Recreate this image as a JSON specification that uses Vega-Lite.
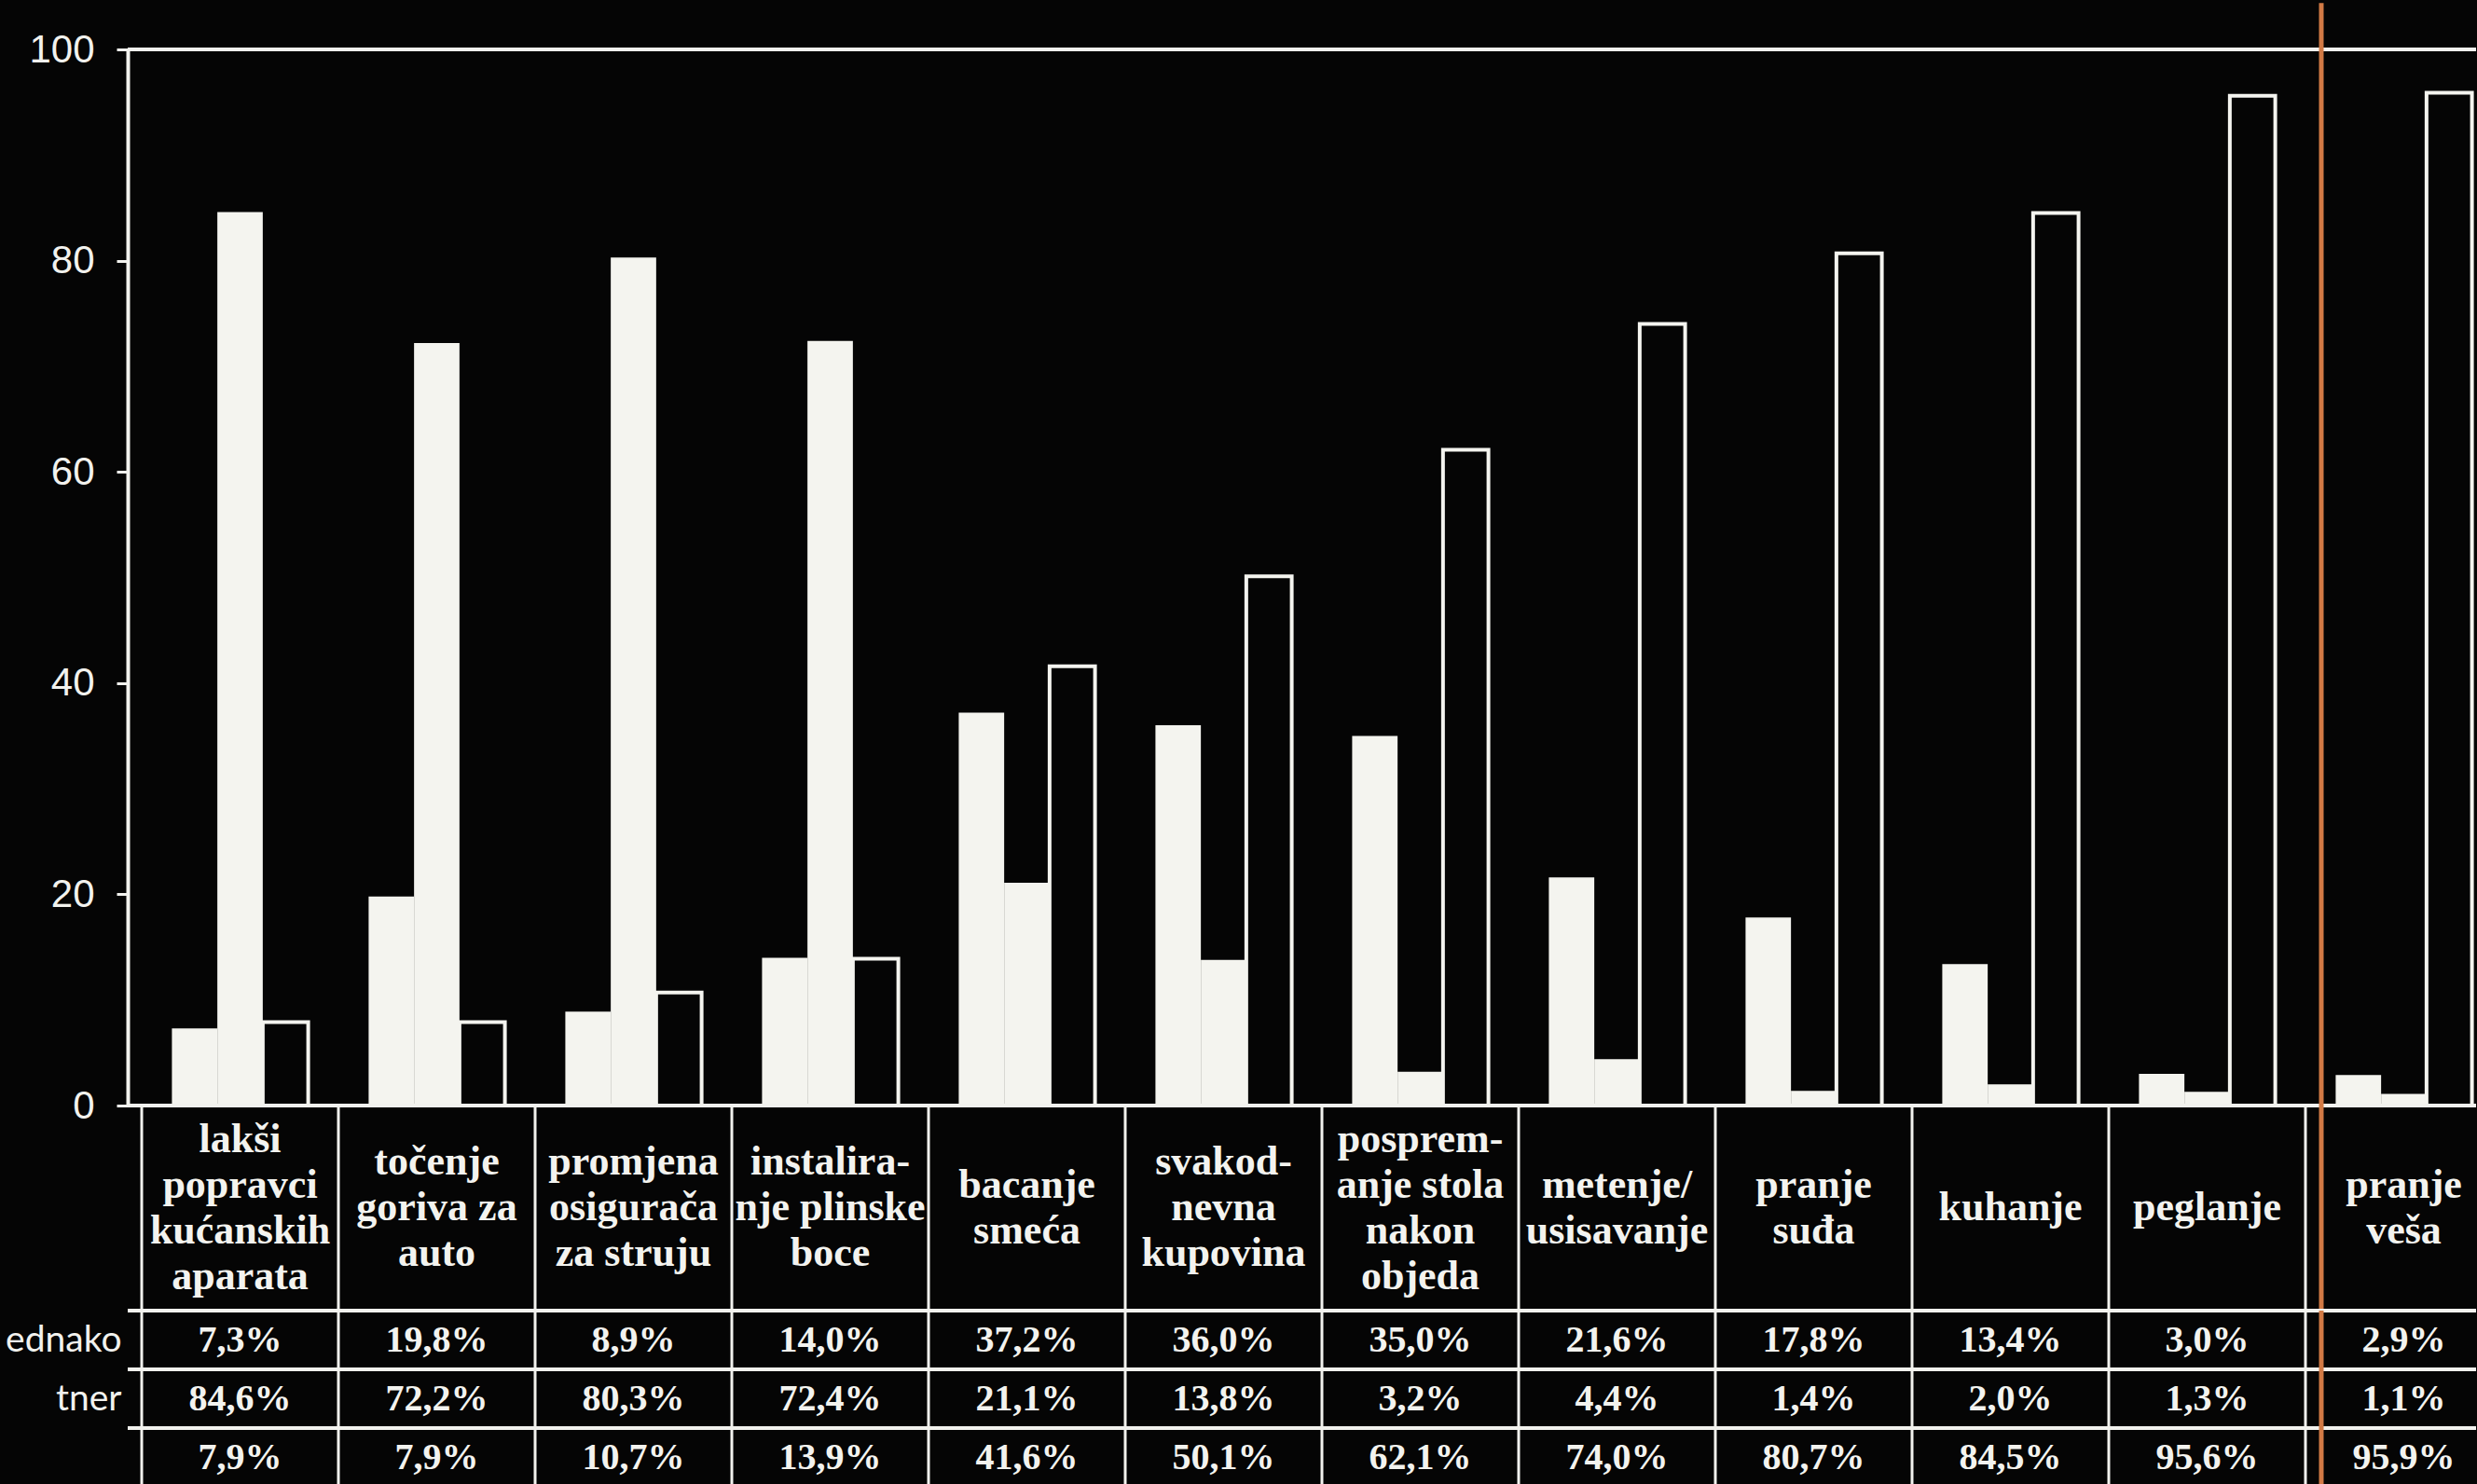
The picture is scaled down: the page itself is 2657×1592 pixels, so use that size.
{
  "$schema": "https://vega.github.io/schema/vega-lite/v6.json",
  "background": "#050505",
  "padding": {"left": 5, "top": 0, "right": 0, "bottom": 0},
  "autosize": {"type": "pad"},
  "bounds": "flush",
  "spacing": 0,
  "config": {"view": {"stroke": null}},
  "datasets": {
    "tasks": [
      {"task": "lakši\npopravci\nkućanskih\naparata"},
      {"task": "točenje\ngoriva za\nauto"},
      {"task": "promjena\nosigurača\nza struju"},
      {"task": "instalira-\nnje plinske\nboce"},
      {"task": "bacanje\nsmeća"},
      {"task": "svakod-\nnevna\nkupovina"},
      {"task": "posprem-\nanje stola\nnakon\nobjeda"},
      {"task": "metenje/\nusisavanje"},
      {"task": "pranje\nsuđa"},
      {"task": "kuhanje"},
      {"task": "peglanje"},
      {"task": "pranje\nveša"}
    ],
    "vals": [
      {"task": "lakši\npopravci\nkućanskih\naparata", "series": "jednako", "value": 7.3},
      {"task": "lakši\npopravci\nkućanskih\naparata", "series": "partner", "value": 84.6},
      {"task": "lakši\npopravci\nkućanskih\naparata", "series": "ja", "value": 7.9},
      {"task": "točenje\ngoriva za\nauto", "series": "jednako", "value": 19.8},
      {"task": "točenje\ngoriva za\nauto", "series": "partner", "value": 72.2},
      {"task": "točenje\ngoriva za\nauto", "series": "ja", "value": 7.9},
      {"task": "promjena\nosigurača\nza struju", "series": "jednako", "value": 8.9},
      {"task": "promjena\nosigurača\nza struju", "series": "partner", "value": 80.3},
      {"task": "promjena\nosigurača\nza struju", "series": "ja", "value": 10.7},
      {"task": "instalira-\nnje plinske\nboce", "series": "jednako", "value": 14.0},
      {"task": "instalira-\nnje plinske\nboce", "series": "partner", "value": 72.4},
      {"task": "instalira-\nnje plinske\nboce", "series": "ja", "value": 13.9},
      {"task": "bacanje\nsmeća", "series": "jednako", "value": 37.2},
      {"task": "bacanje\nsmeća", "series": "partner", "value": 21.1},
      {"task": "bacanje\nsmeća", "series": "ja", "value": 41.6},
      {"task": "svakod-\nnevna\nkupovina", "series": "jednako", "value": 36.0},
      {"task": "svakod-\nnevna\nkupovina", "series": "partner", "value": 13.8},
      {"task": "svakod-\nnevna\nkupovina", "series": "ja", "value": 50.1},
      {"task": "posprem-\nanje stola\nnakon\nobjeda", "series": "jednako", "value": 35.0},
      {"task": "posprem-\nanje stola\nnakon\nobjeda", "series": "partner", "value": 3.2},
      {"task": "posprem-\nanje stola\nnakon\nobjeda", "series": "ja", "value": 62.1},
      {"task": "metenje/\nusisavanje", "series": "jednako", "value": 21.6},
      {"task": "metenje/\nusisavanje", "series": "partner", "value": 4.4},
      {"task": "metenje/\nusisavanje", "series": "ja", "value": 74.0},
      {"task": "pranje\nsuđa", "series": "jednako", "value": 17.8},
      {"task": "pranje\nsuđa", "series": "partner", "value": 1.4},
      {"task": "pranje\nsuđa", "series": "ja", "value": 80.7},
      {"task": "kuhanje", "series": "jednako", "value": 13.4},
      {"task": "kuhanje", "series": "partner", "value": 2.0},
      {"task": "kuhanje", "series": "ja", "value": 84.5},
      {"task": "peglanje", "series": "jednako", "value": 3.0},
      {"task": "peglanje", "series": "partner", "value": 1.3},
      {"task": "peglanje", "series": "ja", "value": 95.6},
      {"task": "pranje\nveša", "series": "jednako", "value": 2.9},
      {"task": "pranje\nveša", "series": "partner", "value": 1.1},
      {"task": "pranje\nveša", "series": "ja", "value": 95.9}
    ]
  },
  "vconcat": [
    {
      "width": 2519,
      "height": 1133,
      "layer": [
        {
          "data": {"name": "vals"},
          "mark": {"type": "bar", "strokeWidth": 4},
          "encoding": {
            "x": {
              "field": "task", "type": "nominal", "sort": null,
              "scale": {
                "domain": ["lakši\npopravci\nkućanskih\naparata", "točenje\ngoriva za\nauto", "promjena\nosigurača\nza struju", "instalira-\nnje plinske\nboce", "bacanje\nsmeća", "svakod-\nnevna\nkupovina", "posprem-\nanje stola\nnakon\nobjeda", "metenje/\nusisavanje", "pranje\nsuđa", "kuhanje", "peglanje", "pranje\nveša"],
                "range": [15, 2547], "paddingInner": 0, "paddingOuter": 0
              },
              "axis": null
            },
            "xOffset": {
              "field": "series", "type": "nominal",
              "scale": {"domain": ["jednako", "partner", "ja"], "paddingInner": 0, "paddingOuter": 0.665}
            },
            "y": {
              "field": "value", "type": "quantitative",
              "scale": {"domain": [0, 100], "nice": false},
              "axis": {
                "title": null, "values": [0, 20, 40, 60, 80, 100], "grid": false,
                "domainColor": "#f2f2ee", "domainWidth": 4,
                "tickColor": "#f2f2ee", "tickWidth": 3, "tickSize": 12,
                "labelColor": "#f2f2ee", "labelFont": "Liberation Sans", "labelFontSize": 42, "labelPadding": 24
              }
            },
            "fill": {"condition": {"test": "datum.series === 'ja'", "value": "#050505"}, "value": "#f4f4ef"},
            "stroke": {"condition": {"test": "datum.series === 'ja'", "value": "#f4f4ef"}, "value": "transparent"}
          }
        },
        {
          "data": {"values": [{}]},
          "mark": {"type": "rule", "color": "#f2f2ee", "strokeWidth": 4},
          "encoding": {"y": {"datum": 100}}
        },
        {
          "data": {"values": [{}]},
          "mark": {"type": "rule", "color": "#f2f2ee", "strokeWidth": 4},
          "encoding": {"y": {"datum": 0}}
        },
        {
          "data": {"values": [{}]},
          "mark": {"type": "rule", "color": "#d27a45", "strokeWidth": 5, "xOffset": 17},
          "encoding": {
            "x": {"datum": "pranje\nveša", "bandPosition": 0},
            "y": {"datum": 0},
            "y2": {"datum": 104.4}
          }
        }
      ]
    },
    {
      "width": 2519,
      "height": 220,
      "data": {"name": "tasks"},
      "encoding": {
        "x": {
          "field": "task", "type": "nominal", "sort": null,
          "scale": {
            "domain": ["lakši\npopravci\nkućanskih\naparata", "točenje\ngoriva za\nauto", "promjena\nosigurača\nza struju", "instalira-\nnje plinske\nboce", "bacanje\nsmeća", "svakod-\nnevna\nkupovina", "posprem-\nanje stola\nnakon\nobjeda", "metenje/\nusisavanje", "pranje\nsuđa", "kuhanje", "peglanje", "pranje\nveša"],
            "range": [15, 2547], "paddingInner": 0, "paddingOuter": 0
          },
          "axis": null
        }
      },
      "layer": [
        {
          "mark": {"type": "rule", "color": "#f2f2ee", "strokeWidth": 3},
          "encoding": {"x": {"field": "task", "type": "nominal", "bandPosition": 0}}
        },
        {
          "mark": {"type": "text", "font": "Liberation Serif", "fontWeight": "bold", "fontSize": 44, "lineHeight": 49, "lineBreak": "\n", "color": "#f3f3ef", "baseline": "middle", "align": "center",
                   "dy": {"expr": "-(length(split(datum.task, '\\n')) - 1) * 24.5"}},
          "encoding": {"text": {"field": "task"}}
        },
        {
          "data": {"values": [{}]},
          "mark": {"type": "rule", "color": "#d27a45", "strokeWidth": 5, "xOffset": 17},
          "encoding": {"x": {"datum": "pranje\nveša", "bandPosition": 0}}
        }
      ]
    },
    {
      "width": 2519,
      "height": 189,
      "encoding": {
        "x": {
          "field": "task", "type": "nominal", "sort": null,
          "scale": {
            "domain": ["lakši\npopravci\nkućanskih\naparata", "točenje\ngoriva za\nauto", "promjena\nosigurača\nza struju", "instalira-\nnje plinske\nboce", "bacanje\nsmeća", "svakod-\nnevna\nkupovina", "posprem-\nanje stola\nnakon\nobjeda", "metenje/\nusisavanje", "pranje\nsuđa", "kuhanje", "peglanje", "pranje\nveša"],
            "range": [15, 2547], "paddingInner": 0, "paddingOuter": 0
          },
          "axis": null
        }
      },
      "layer": [
        {
          "data": {"name": "tasks"},
          "mark": {"type": "rule", "color": "#f2f2ee", "strokeWidth": 3},
          "encoding": {"x": {"field": "task", "type": "nominal", "bandPosition": 0}}
        },
        {
          "data": {"name": "vals"},
          "mark": {"type": "text", "font": "Liberation Serif", "fontWeight": "bold", "fontSize": 40, "color": "#f3f3ef", "baseline": "middle", "align": "center",
                   "text": {"expr": "replace(format(datum.value, '.1f'), '.', ',') + '%'"}},
          "encoding": {
            "y": {
              "field": "series", "type": "nominal",
              "scale": {"domain": ["jednako", "partner", "ja"], "paddingInner": 0, "paddingOuter": 0},
              "axis": {
                "title": null, "ticks": false, "domain": false, "grid": false,
                "labelExpr": "datum.value == 'jednako' ? 'ednako' : datum.value == 'partner' ? 'tner' : ''",
                "labelFont": "Lato", "labelFontSize": 39, "labelColor": "#f2f2ee", "labelPadding": 7
              }
            }
          }
        },
        {
          "data": {"name": "vals"},
          "mark": {"type": "rule", "color": "#f2f2ee", "strokeWidth": 3},
          "encoding": {
            "x": null,
            "y": {
              "field": "series", "type": "nominal", "bandPosition": 0,
              "scale": {"domain": ["jednako", "partner", "ja"], "paddingInner": 0, "paddingOuter": 0}
            }
          }
        },
        {
          "data": {"values": [{}]},
          "mark": {"type": "rule", "color": "#d27a45", "strokeWidth": 5, "xOffset": 17},
          "encoding": {"x": {"datum": "pranje\nveša", "bandPosition": 0}}
        }
      ]
    }
  ]
}
